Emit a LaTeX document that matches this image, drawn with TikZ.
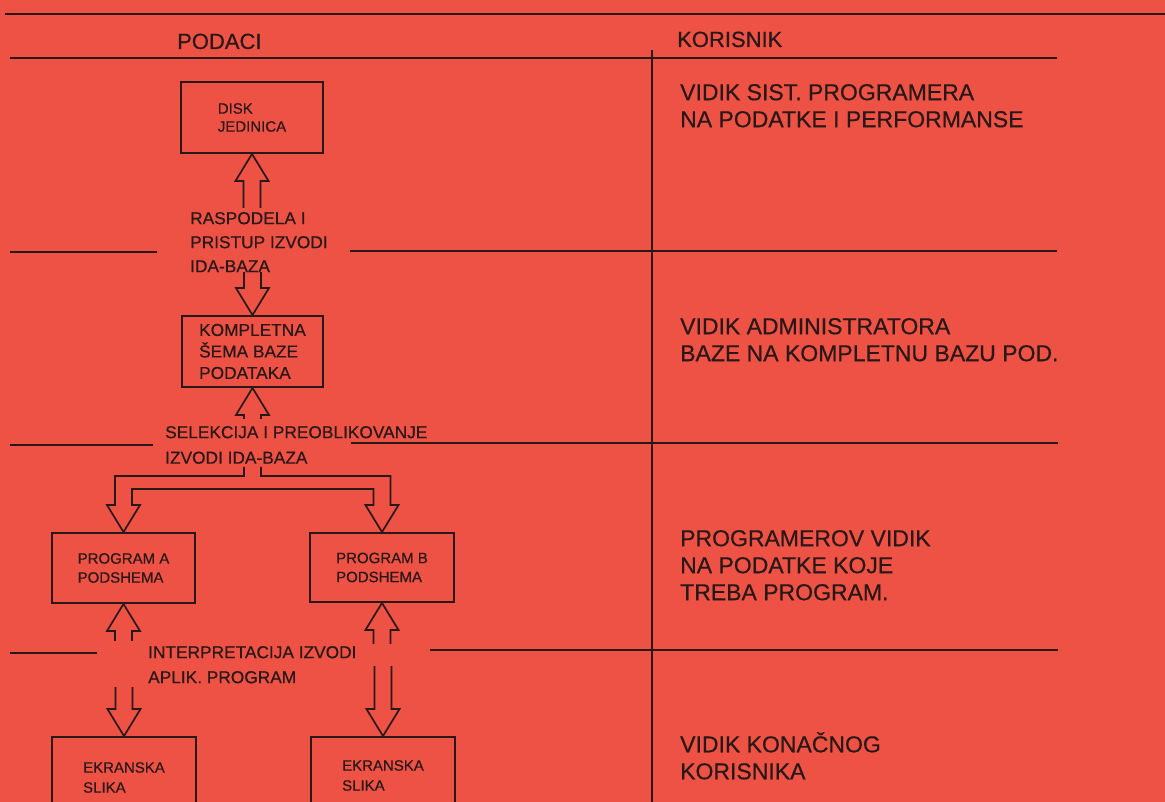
\documentclass[tikz,border=0pt]{standalone}
\usepackage{fontspec}
\setmainfont{Liberation Sans}[FakeBold=0.5]
\usetikzlibrary{calc}
\definecolor{paper}{RGB}{238,82,68}
\definecolor{ink}{RGB}{40,24,24}
\newcommand\ArrUp[2]{\draw[arr] (#1) ++(-8.5,#2) -- ++(0,27-#2) -- ++(-8,0) -- (#1) -- ++(16.5,27) -- ++(-8,0) -- ++(0,#2-27);}
\newcommand\ArrDown[2]{\draw[arr] (#1) ++(-8.5,-#2) -- ++(0,#2-27) -- ++(-8,0) -- (#1) -- ++(16.5,-27) -- ++(-8,0) -- ++(0,27-#2);}
\newcommand\RF{\fontsize{23}{27}\selectfont}
\newcommand\HF{\fontsize{22}{27}\selectfont}
\newcommand\LF{\fontsize{17.3}{25}\selectfont}
\newcommand\BF{\fontsize{15}{19}\selectfont}
\begin{document}
\begin{tikzpicture}[x=1pt,y=-1pt,
  box/.style={draw=ink, line width=1.9pt, align=left, inner sep=0pt, text=ink},
  lbl/.style={anchor=north west, inner sep=0pt, align=left, text=ink},
  hdr/.style={anchor=base west, inner sep=0pt, text=ink, font=\HF},
  rule/.style={draw=ink, line width=1.9pt},
  arr/.style={draw=ink, line width=1.7pt, line join=miter}]
\clip (0,0) rectangle (1165,802);
\fill[paper] (0,0) rectangle (1165,802);
% table rules
\draw[rule] (5,14) -- (1165,14);
\draw[rule] (10,58) -- (1057,58);
\draw[rule] (10,252) -- (157,252);
\draw[rule] (350,251) -- (1057,251);
\draw[rule] (10,445) -- (153,445);
\draw[rule] (351,443) -- (1058,443);
\draw[rule] (10,653) -- (97,653);
\draw[rule] (430,650) -- (1058,650);
\draw[rule, line width=1.6pt] (652,50) -- (652,802);
% headers
\node[hdr] (hd1) at (177,49) {PODACI};
\node[hdr] (hd2) at (677,47) {KORISNIK};
% right column texts
\node[lbl, font=\RF] (v1) at (680,80) {\rule{0pt}{20pt}VIDIK SIST. PROGRAMERA\\NA PODATKE I PERFORMANSE};
\node[lbl, font=\RF] (v2) at (680,314) {\rule{0pt}{20pt}VIDIK ADMINISTRATORA\\BAZE NA KOMPLETNU BAZU POD.};
\node[lbl, font=\RF] (v3) at (680,526) {\rule{0pt}{20pt}PROGRAMEROV VIDIK\\NA PODATKE KOJE\\TREBA PROGRAM.};
\node[lbl, font=\RF] (v4) at (680,732) {\rule{0pt}{20pt}VIDIK KONAČNOG\\KORISNIKA};
% boxes
\node[box, minimum width=142pt, minimum height=71pt, font=\fontsize{15}{18}\selectfont] (disk) at (252,117.5) {DISK\\JEDINICA};
\node[box, minimum width=141pt, minimum height=71pt, font=\fontsize{17.3}{21.5}\selectfont] (komp) at (252.5,351.5) {KOMPLETNA\\ŠEMA BAZE\\PODATAKA};
\node[box, minimum width=143pt, minimum height=70pt, font=\BF] (pa) at (123.5,568) {PROGRAM A\\PODSHEMA};
\node[box, minimum width=144pt, minimum height=69pt, font=\BF] (pb) at (382,567.5) {PROGRAM B\\PODSHEMA};
\node[box, minimum width=144pt, minimum height=81pt, font=\fontsize{15}{20}\selectfont] (ea) at (124,777.5) {EKRANSKA\\SLIKA};
\node[box, minimum width=144pt, minimum height=77pt, font=\fontsize{15}{20}\selectfont] (eb) at (383,775.5) {EKRANSKA\\SLIKA};
% arrow labels
\node[lbl, font=\fontsize{17.3}{24}\selectfont] (l1) at (190,208) {\rule{0pt}{16pt}RASPODELA I\\PRISTUP IZVODI\\IDA-BAZA};
\node[lbl, font=\fontsize{17.3}{25.5}\selectfont] (l2) at (165,422) {\rule{0pt}{16pt}SELEKCIJA I PREOBLIKOVANJE\\IZVODI IDA-BAZA};
\node[lbl, font=\LF] (l3) at (148,642) {\rule{0pt}{16pt}INTERPRETACIJA IZVODI\\APLIK. PROGRAM};
% hollow arrows
\ArrUp{disk.south}{54}
\ArrDown{komp.north}{43}
\ArrUp{komp.south}{31}
\draw[arr] ($(komp.south)+(-8.5,79)$) -- ++(0,9) -| ($(pa.north)+(-8.5,-27)$) -- ++(-8,0) -- (pa.north) -- ++(16.5,-27) -- ++(-8,0)
  |- ($(pb.north)+(-8.5,-43)$) -- ($(pb.north)+(-8.5,-27)$) -- ++(-8,0) -- (pb.north) -- ++(16.5,-27) -- ++(-8,0)
  |- ($(komp.south)+(8.5,88)$) -- ++(0,-9);
\ArrUp{pa.south}{37}
\ArrUp{pb.south}{41}
\ArrDown{ea.north}{49}
\ArrDown{eb.north}{70}
\end{tikzpicture}
\end{document}
